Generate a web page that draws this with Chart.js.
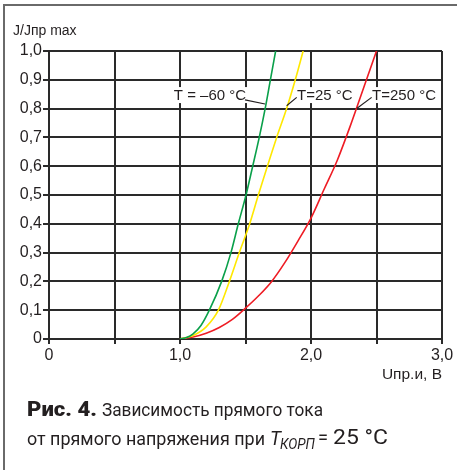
<!DOCTYPE html>
<html>
<head>
<meta charset="utf-8">
<script src="https://cdn.jsdelivr.net/npm/chart.js@4"></script>
<style>
  html, body { margin: 0; padding: 0; background: #fff; }
  #wrap { position: relative; width: 457px; height: 470px; overflow: hidden; }
  #c { position: absolute; left: 0; top: 0; }
  #frame { position: absolute; left: 3px; top: 4px; right: -10px; bottom: -10px;
           border-top: 2px solid #6a6a6a; border-left: 2px solid #6a6a6a; }
  .cap { position: absolute; font-family: Roboto, "Liberation Sans", sans-serif;
         font-size: 19px; line-height: 19px; color: #231f20; white-space: nowrap; transform-origin: 0 0; }
  .b { font-weight: 900; }
  .i { font-style: italic; }
</style>
</head>
<body>
<div id="wrap">
  <canvas id="c" width="457" height="470"></canvas>
  <div id="frame"></div>
  <span class="cap b" data-w="70" style="left:27px; top:399px; font-size:20px; line-height:20px;">Рис. 4.</span>
  <span class="cap" data-w="221" style="left:102px; top:400px;">Зависимость прямого тока</span>
  <span class="cap" data-w="238" style="left:27px; top:429px;">от прямого напряжения при</span>
  <span class="cap i" data-w="11" style="left:270px; top:429px; font-size:20px;">T</span>
  <span class="cap i" data-w="35" style="left:280px; top:437px; font-size:14px; line-height:14px;">КОРП</span>
  <span class="cap" data-w="10" style="left:318px; top:428px; font-size:20px;">=</span>
  <span class="cap" data-w="55" style="left:333px; top:427px; font-size:21px; line-height:21px;">25 °C</span>
</div>
<script>
// ---- data ----
const xTickLabels = { 0: "0", 1: "1,0", 2: "2,0", 3: "3,0" };
const yTickLabels = ["0", "0,1", "0,2", "0,3", "0,4", "0,5", "0,6", "0,7", "0,8", "0,9", "1,0"];

const seriesNames = ["T = –60 °C", "T=25 °C", "T=250 °C"];

// T = -60 °C : forward voltage U (V) and relative current J/Jпр max
const uMinus60 = [1.0, 1.05, 1.1, 1.16, 1.224, 1.318, 1.389, 1.445, 1.504, 1.555, 1.605, 1.65, 1.69, 1.73];
const jMinus60 = [0, 0.005, 0.018, 0.047, 0.1, 0.2, 0.3, 0.4, 0.5, 0.6, 0.7, 0.8, 0.9, 1.0];
// T = 25 °C
const u25 = [1.0, 1.1, 1.2, 1.293, 1.377, 1.453, 1.532, 1.598, 1.667, 1.738, 1.814, 1.88, 1.94];
const j25 = [0, 0.012, 0.042, 0.1, 0.2, 0.3, 0.4, 0.5, 0.6, 0.7, 0.8, 0.9, 1.0];
// T = 250 °C
const u250 = [1.0, 1.1, 1.2, 1.3, 1.4, 1.5, 1.6, 1.7, 1.8, 1.9, 2.0, 2.1, 2.2, 2.3, 2.4, 2.5];
const j250 = [0, 0.007, 0.02, 0.04, 0.068, 0.107, 0.15, 0.2, 0.265, 0.34, 0.42, 0.52, 0.62, 0.74, 0.87, 1.0];

const seriesColors = ["#0aa04a", "#ffe800", "#ee1c24"];

// annotation anchors in data units: [labelX, labelY, align, leaderFromX, leaderFromY, leaderToX, leaderToY]
const labelAnchors = [
  [1.229, 0.847, "center", 1.496, 0.83, 1.649, 0.816],
  [1.893, 0.847, "left",   1.891, 0.839, 1.814, 0.81],
  [2.466, 0.847, "left",   2.463, 0.839, 2.349, 0.80]
];

const toPoints = (xs, ys) => xs.map((x, i) => ({ x: x, y: ys[i] }));

const FONT = '"Liberation Sans", Arial, sans-serif';

const extras = {
  id: 'extras',
  afterDatasetsDraw(chart) {
    const ctx = chart.ctx;
    const xs = chart.scales.x, ys = chart.scales.y;
    ctx.save();
    ctx.font = '15px ' + FONT;
    ctx.textBaseline = 'middle';
    labelAnchors.forEach((a, i) => {
      const txt = seriesNames[i];
      const w = ctx.measureText(txt).width;
      const px = xs.getPixelForValue(a[0]);
      const py = ys.getPixelForValue(a[1]);
      const left = a[2] === 'center' ? px - w / 2 : px;
      ctx.fillStyle = '#fff';
      ctx.fillRect(left - 1, py - 8, w + 2, 16);
      ctx.fillStyle = '#231f20';
      ctx.textAlign = 'left';
      ctx.fillText(txt, left, py + 1);
      ctx.strokeStyle = '#231f20';
      ctx.lineWidth = 1.2;
      ctx.beginPath();
      ctx.moveTo(xs.getPixelForValue(a[3]), ys.getPixelForValue(a[4]));
      ctx.lineTo(xs.getPixelForValue(a[5]), ys.getPixelForValue(a[6]));
      ctx.stroke();
    });
    // axis titles
    ctx.fillStyle = '#231f20';
    ctx.textBaseline = 'alphabetic';
    ctx.textAlign = 'left';
    ctx.font = '14px ' + FONT;
    ctx.fillText('J/Jпр max', 13, 35);
    ctx.textAlign = 'right';
    ctx.font = '15.5px ' + FONT;
    ctx.fillText('Uпр.и, В', xs.right, 379);
    ctx.restore();
  }
};

new Chart(document.getElementById('c'), {
  type: 'scatter',
  data: {
    datasets: [
      { label: seriesNames[0], data: toPoints(uMinus60, jMinus60) },
      { label: seriesNames[1], data: toPoints(u25, j25) },
      { label: seriesNames[2], data: toPoints(u250, j250) }
    ].map((d, i) => Object.assign(d, {
      showLine: true, borderColor: seriesColors[i], backgroundColor: seriesColors[i],
      borderWidth: 1.6, pointRadius: 0, cubicInterpolationMode: 'monotone', fill: false
    }))
  },
  options: {
    responsive: false,
    animation: false,
    layout: { padding: { left: 0, right: 15, top: 51, bottom: 0 } },
    plugins: { legend: { display: false }, tooltip: { enabled: false } },
    scales: {
      x: {
        type: 'linear', min: 0, max: 3,
        afterFit(s) { s.height = 131; },
        ticks: {
          stepSize: 0.5, autoSkip: false, maxRotation: 0, padding: 2,
          color: '#231f20', font: { family: FONT, size: 16 },
          callback: v => (xTickLabels[v] !== undefined ? xTickLabels[v] : '')
        },
        grid: { color: '#2a2a2a', lineWidth: 2, tickLength: 5, drawTicks: true },
        border: { color: '#2a2a2a', width: 2 }
      },
      y: {
        type: 'linear', min: 0, max: 1,
        afterFit(s) { s.width = 49; },
        ticks: {
          stepSize: 0.1, autoSkip: false, padding: 1,
          color: '#231f20', font: { family: FONT, size: 16 },
          callback: (v, i) => yTickLabels[i]
        },
        grid: { color: '#2a2a2a', lineWidth: 2, tickLength: 6 },
        border: { color: '#2a2a2a', width: 2 }
      }
    }
  },
  plugins: [extras]
});

// fit caption pieces to the widths measured on the reference
document.querySelectorAll('.cap').forEach(el => {
  const w = el.getBoundingClientRect().width;
  const target = parseFloat(el.dataset.w);
  if (w > 0) el.style.transform = 'scaleX(' + (target / w) + ')';
});
</script>
</body>
</html>
